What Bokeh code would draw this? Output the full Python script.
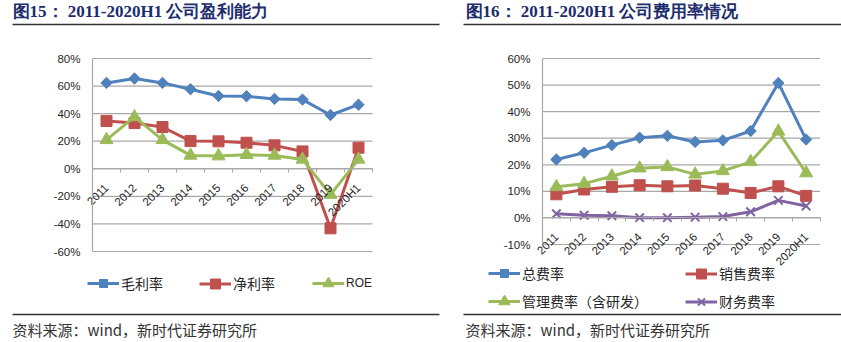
import numpy as np
from bokeh.plotting import figure
from bokeh.layouts import row
from bokeh.models import (Range1d, FixedTicker, PrintfTickFormatter, Label,
                          Legend, LegendItem)
from bokeh.embed import file_html
from bokeh.resources import INLINE

# ---------------- data ----------------
categories = ["2011", "2012", "2013", "2014", "2015", "2016", "2017", "2018", "2019", "2020H1"]

# chart 15 (percent)
gross_margin = [62.3, 65.5, 62.3, 57.7, 52.8, 52.6, 50.7, 50.2, 39.0, 46.5]
net_margin = [34.7, 33.2, 30.3, 20.1, 19.9, 18.9, 17.0, 12.6, -43.2, 15.3]
roe = [21.0, 37.6, 21.0, 9.7, 9.2, 10.2, 9.7, 6.8, -18.7, 6.8]

# chart 16 (percent)
total_exp = [22.0, 24.5, 27.4, 30.2, 30.9, 28.6, 29.2, 32.7, 50.8, 29.5]
selling_exp = [8.9, 10.7, 11.7, 12.3, 11.9, 12.2, 11.0, 9.4, 11.9, 8.3]
admin_exp = [11.7, 12.9, 15.7, 18.7, 19.2, 16.4, 17.7, 21.1, 32.6, 16.9]
fin_exp = [1.6, 1.0, 0.8, 0.1, 0.1, 0.3, 0.5, 2.3, 6.6, 4.5]

left_ticks = [-60, -40, -20, 0, 20, 40, 60, 80]
right_ticks = [-10, 0, 10, 20, 30, 40, 50, 60]

left_names = ["毛利率", "净利率", "ROE"]
right_names = ["总费率", "销售费率", "管理费率（含研发）", "财务费率"]
title_left = "图15： 2011-2020H1 公司盈利能力"
title_right = "图16： 2011-2020H1 公司费用率情况"
source_text = "资料来源：wind，新时代证券研究所"

BLUE = "#4F81BD"
RED = "#C0504D"
GREEN = "#9BBB59"
PURPLE = "#8064A2"
NAVY = "#1C2C6E"
GRID = "#A8A8A8"
TXT = "#262626"
CJK = "Noto Sans CJK SC"
H = 342

xs = list(range(len(categories)))
XLO, XHI = -0.5, len(categories) - 0.5


def make_fig(width, pl, pr, pt, pb, ticks):
    """pl/pr/pt/pb: pixel edges of the plotting area inside the canvas."""
    y0, y1 = ticks[0], ticks[-1]
    kx = (pr - pl) / (XHI - XLO)
    ky = (pb - pt) / (y1 - y0)
    xr = Range1d(XLO - pl / kx, XHI + (width - pr) / kx)
    yr = Range1d(y0 - (H - pb) / ky, y1 + pt / ky)
    p = figure(width=width, height=H, x_range=xr, y_range=yr, output_backend="svg",
               toolbar_location=None, min_border=0, min_border_left=0, min_border_right=0,
               min_border_top=0, min_border_bottom=0)
    p.outline_line_color = None
    p.background_fill_color = "white"
    p.border_fill_color = "white"
    p.xgrid.visible = False
    p.ygrid.visible = False
    # horizontal grid lines limited to the plotting area
    p.segment(x0=[XLO] * len(ticks), x1=[XHI] * len(ticks), y0=ticks, y1=ticks,
              line_color=GRID, line_width=1.2)
    ya = p.yaxis[0]
    ya.fixed_location = XLO
    ya.bounds = (y0, y1)
    ya.ticker = FixedTicker(ticks=ticks)
    ya.formatter = PrintfTickFormatter(format="%d%%")
    ya.axis_line_color = GRID
    ya.axis_line_width = 1.2
    ya.major_tick_line_color = None
    ya.minor_tick_line_color = None
    ya.major_tick_out = 0
    ya.major_tick_in = 0
    ya.major_label_standoff = 12
    ya.major_label_text_font = "Liberation Sans"
    ya.major_label_text_font_size = "11.5px"
    ya.major_label_text_color = TXT
    xa = p.xaxis[0]
    xa.fixed_location = 0
    xa.bounds = (XLO, XHI)
    xa.ticker = FixedTicker(ticks=xs, minor_ticks=[i - 0.5 for i in range(len(categories) + 1)])
    xa.major_label_overrides = {i: c for i, c in enumerate(categories)}
    xa.major_label_orientation = np.pi / 4
    xa.major_tick_line_color = None
    xa.major_tick_out = 0
    xa.major_tick_in = 0
    xa.minor_tick_in = 0
    xa.minor_tick_out = 4
    xa.minor_tick_line_color = GRID
    xa.axis_line_color = GRID
    xa.axis_line_width = 1.2
    xa.major_label_standoff = 13
    xa.major_label_text_font = "Liberation Sans"
    xa.major_label_text_font_size = "11.5px"
    xa.major_label_text_color = TXT

    def px2x(px):
        return xr.start + px / kx

    def py2y(py):
        return yr.end - py / ky

    return p, px2x, py2y


def add_series(p, ys, color, marker, size, angle=0.0):
    l = p.line(xs, ys, line_color=color, line_width=3)
    if marker == "x":
        s = p.scatter(xs, ys, marker="x", size=size, line_color=color, line_width=2)
    else:
        s = p.scatter(xs, ys, marker=marker, size=size, fill_color=color, line_color=color, angle=angle)
    return [l, s]


def add_legend(p, label, renderers, px, center_y, gh):
    vy = H - (center_y + gh / 2.0)
    is_latin = label == "ROE"
    lg = Legend(items=[LegendItem(label=label, renderers=renderers)], location=(px, vy),
                orientation="horizontal", padding=0, margin=0, border_line_color=None,
                background_fill_alpha=0, glyph_width=32, glyph_height=gh, label_height=14,
                label_standoff=2,
                label_text_font="Liberation Sans" if is_latin else CJK,
                label_text_font_size="12px" if is_latin else "14px",
                label_text_color=TXT)
    p.add_layout(lg, "center")


def add_frame_text(p, px2x, py2y, title, x_start, rule_l, rule_r):
    p.add_layout(Label(x=x_start, y=11, x_units="canvas", y_units="canvas", text=title,
                       text_font="Liberation Serif", text_font_style="bold",
                       text_font_size="17px", text_color=NAVY, text_baseline="middle"))
    # horizontal rules under the title and above the source note
    p.segment(x0=[px2x(rule_l)] * 2, x1=[px2x(rule_r)] * 2,
              y0=[py2y(24), py2y(314)], y1=[py2y(24), py2y(314)],
              line_color="#333333", line_width=1.6)
    p.add_layout(Label(x=x_start, y=329, x_units="canvas", y_units="canvas", text=source_text,
                       text_font=CJK, text_font_size="15px", text_color="#333333",
                       text_baseline="middle"))


# ---------------- left chart ----------------
LW = 451
pl, lx, ly = make_fig(LW, 92, 372, 58, 251, left_ticks)
r1 = add_series(pl, gross_margin, BLUE, "square", 8, np.pi / 4)
r2 = add_series(pl, net_margin, RED, "square", 11)
r3 = add_series(pl, roe, GREEN, "triangle", 13)
add_legend(pl, left_names[0], r1, 87, 283, 20)
add_legend(pl, left_names[1], r2, 199, 283, 25)
add_legend(pl, left_names[2], r3, 312, 283, 28)
add_frame_text(pl, lx, ly, title_left, 12, 12, 439)

# ---------------- right chart ----------------
RW = 841 - LW
pr, rx, ry = make_fig(RW, 91, 368.5, 58, 244, right_ticks)
q1 = add_series(pr, total_exp, BLUE, "square", 8, np.pi / 4)
q2 = add_series(pr, selling_exp, RED, "square", 11)
q3 = add_series(pr, admin_exp, GREEN, "triangle", 13)
q4 = add_series(pr, fin_exp, PURPLE, "x", 12)
add_legend(pr, right_names[0], q1, 37, 273, 20)
add_legend(pr, right_names[1], q2, 234, 273, 25)
add_legend(pr, right_names[2], q3, 37, 301, 28)
add_legend(pr, right_names[3], q4, 234, 301, 25)
add_frame_text(pr, rx, ry, title_right, 14, 12, RW)

layout = row(pl, pr)
open("out.html", "w").write(file_html(layout, INLINE))
